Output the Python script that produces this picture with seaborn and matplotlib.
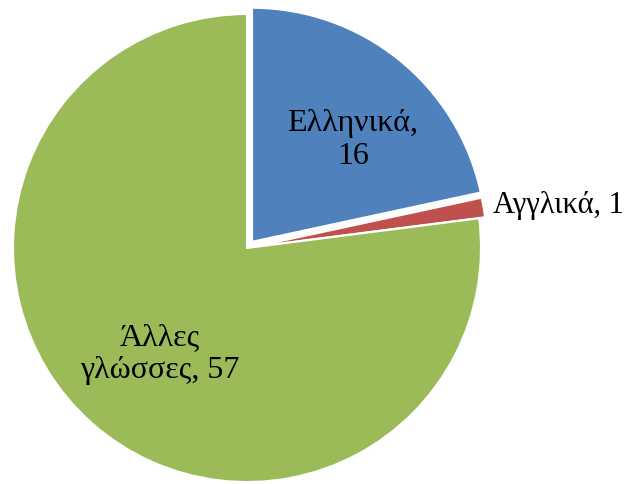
import matplotlib
matplotlib.use("Agg")
import matplotlib.pyplot as plt
import seaborn as sns

categories = ["Ελληνικά", "Αγγλικά", "Άλλες γλώσσες"]
values = [16, 1, 57]
label_texts = ["Ελληνικά,\n16", "Αγγλικά, 1", "Άλλες\nγλώσσες, 57"]
colors = ["#4F81BD", "#C0504D", "#9BBB59"]

sns.set_theme(style="white")
plt.rcParams["font.family"] = ["Liberation Serif", "DejaVu Serif"]

W, H = 629, 484
fig = plt.figure(figsize=(W / 100, H / 100), dpi=100)
ax = fig.add_axes([0, 0, 1, 1])

cx, cy, r = 247, H - 248, 234
# explode offsets are in data units (pixels here)
wedges, _ = ax.pie(values, colors=colors, startangle=90, counterclock=False,
                   center=(cx, cy), radius=r, explode=[8, 6, 0],
                   wedgeprops=dict(edgecolor="white", linewidth=1.5),
                   frame=True)
ax.set_xlim(0, W)
ax.set_ylim(0, H)
ax.set_aspect("equal")
ax.axis("off")

fs = 23
ax.text(353, H - 140, label_texts[0], ha="center", va="center", fontsize=fs,
        linespacing=1.2, color="black")
ax.text(493, H - 213, label_texts[1], ha="left", va="baseline", fontsize=22,
        color="black")
ax.text(160, H - 354, label_texts[2], ha="center", va="center", fontsize=fs,
        linespacing=1.2, color="black")

fig.savefig("out.png", dpi=100)
